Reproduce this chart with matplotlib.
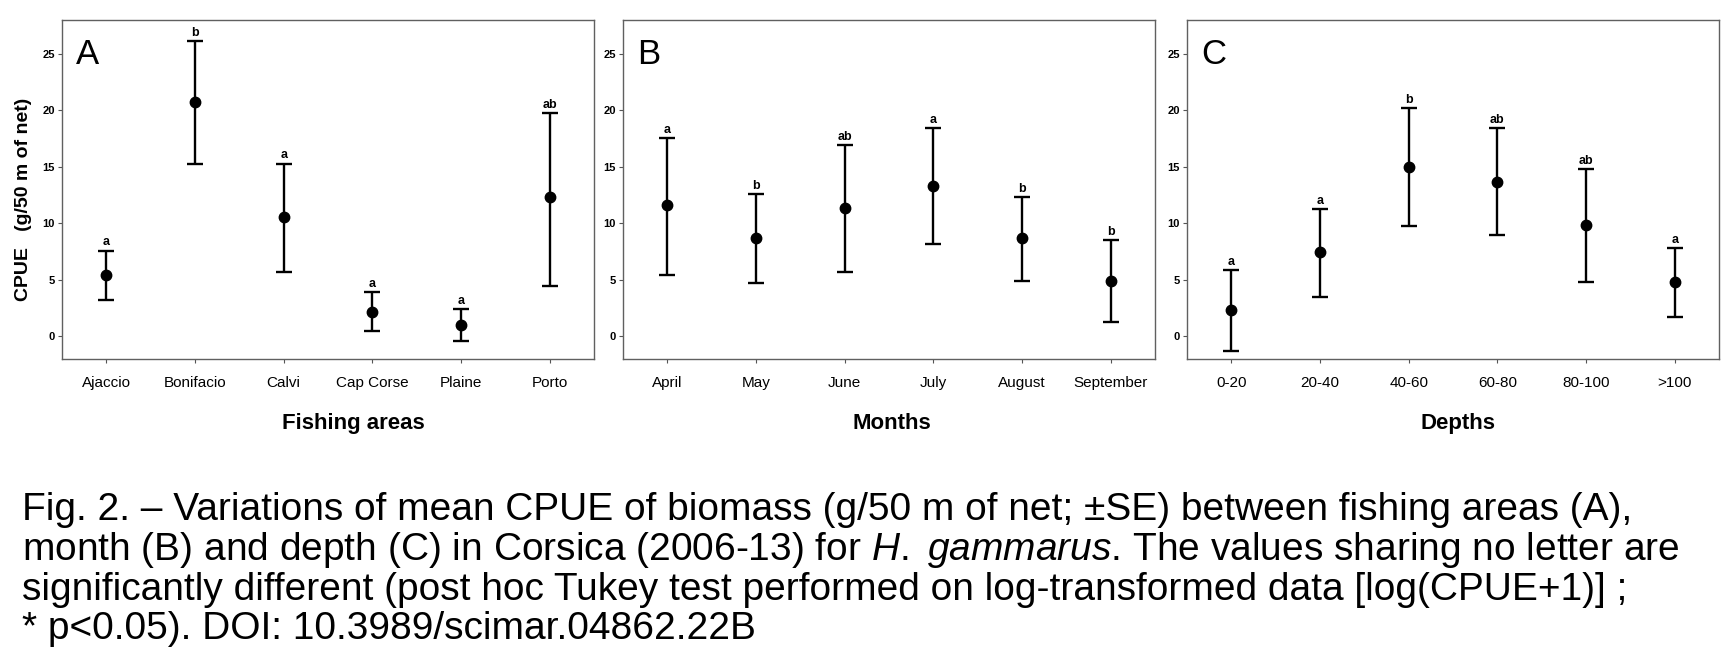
import numpy as np
import matplotlib
matplotlib.use("Agg")
import matplotlib.pyplot as plt

plt.rcParams['font.family'] = ['Liberation Sans', 'DejaVu Sans']
plt.rcParams['mathtext.fontset'] = 'custom'
plt.rcParams['mathtext.rm'] = 'Liberation Sans'
plt.rcParams['mathtext.it'] = 'Liberation Sans:italic'

# panel A - fishing areas
areas = ['Ajaccio', 'Bonifacio', 'Calvi', 'Cap Corse', 'Plaine', 'Porto']
areas_mean = [5.4, 20.7, 10.6, 2.2, 1.05, 12.3]
areas_lo = [3.2, 15.3, 5.7, 0.45, -0.45, 4.5]
areas_hi = [7.6, 26.1, 15.3, 3.9, 2.4, 19.8]
areas_let = ['a', 'b', 'a', 'a', 'a', 'ab']

# panel B - months
months = ['April', 'May', 'June', 'July', 'August', 'September']
months_mean = [11.6, 8.7, 11.4, 13.3, 8.7, 4.9]
months_lo = [5.4, 4.7, 5.7, 8.2, 4.9, 1.3]
months_hi = [17.55, 12.6, 16.9, 18.4, 12.3, 8.5]
months_let = ['a', 'b', 'ab', 'a', 'b', 'b']

# panel C - depths
depths = ['0-20', '20-40', '40-60', '60-80', '80-100', '>100']
depths_mean = [2.3, 7.5, 15.0, 13.7, 9.85, 4.8]
depths_lo = [-1.3, 3.5, 9.8, 9.0, 4.85, 1.75]
depths_hi = [5.9, 11.3, 20.2, 18.4, 14.8, 7.85]
depths_let = ['a', 'a', 'b', 'ab', 'ab', 'a']

caption = [
    "Fig. 2. \u2013 Variations of mean CPUE of biomass (g/50 m of net; \u00b1SE) between fishing areas (A),",
    "month (B) and depth (C) in Corsica (2006-13) for $\\it{H.\\ gammarus}$. The values sharing no letter are",
    "significantly different (post hoc Tukey test performed on log-transformed data [log(CPUE+1)] ;",
    "* p<0.05). DOI: 10.3989/scimar.04862.22B",
]

W, H = 1732, 664
fig = plt.figure(figsize=(W / 100, H / 100), dpi=100)

panels = [
    (62, 'A', areas, areas_mean, areas_lo, areas_hi, areas_let, 'Fishing areas', 0.547),
    (623, 'B', months, months_mean, months_lo, months_hi, months_let, 'Months', 0.505),
    (1187, 'C', depths, depths_mean, depths_lo, depths_hi, depths_let, 'Depths', 0.51),
]

top_px, bot_px, w_px = 20, 359, 532
for left, tag, cats, mean, lo, hi, lets, xlab, xlab_pos in panels:
    ax = fig.add_axes([left / W, 1 - bot_px / H, w_px / W, (bot_px - top_px) / H])
    x = np.arange(1, len(cats) + 1)
    mean = np.array(mean)
    err = [mean - np.array(lo), np.array(hi) - mean]
    ax.errorbar(x, mean, yerr=err, fmt='o', color='black', ms=7.5, capsize=6,
                elinewidth=1.7, capthick=1.7)
    for xi, h, l in zip(x, hi, lets):
        ax.annotate(l, (xi, h), xytext=(0, 1.5), textcoords='offset points',
                    ha='center', va='bottom', fontsize=9, fontweight='bold')
    ax.set_xlim(0.5, 6.5)
    ax.set_ylim(-2, 28)
    ax.set_yticks([0, 5, 10, 15, 20, 25])
    ax.set_xticks(x)
    ax.set_xticklabels(cats, fontsize=11)
    for t in ax.get_yticklabels():
        t.set_fontsize(8)
        t.set_fontweight('bold')
    ax.tick_params(axis='both', direction='out', length=3, width=0.8, color='#555555')
    ax.tick_params(axis='x', pad=9)
    ax.tick_params(axis='y', pad=2)
    for s in ax.spines.values():
        s.set_color('#606060')
        s.set_linewidth(1.0)
    ax.set_xlabel(xlab, fontsize=16, fontweight='bold')
    ax.xaxis.set_label_coords(xlab_pos, -0.16)
    ax.text(0.027, 0.87, tag, transform=ax.transAxes, fontsize=25,
            ha='left', va='baseline')
    if tag == 'A':
        ax.set_ylabel('CPUE   (g/50 m of net)', fontsize=14, fontweight='bold')
        ax.yaxis.set_label_coords(-0.056, 0.47)

baselines = [520, 560, 600, 639]
for line, yb in zip(caption, baselines):
    fig.text(22 / W, 1 - yb / H, line, fontsize=28, ha='left', va='baseline')

fig.savefig('out.png', dpi=100)
